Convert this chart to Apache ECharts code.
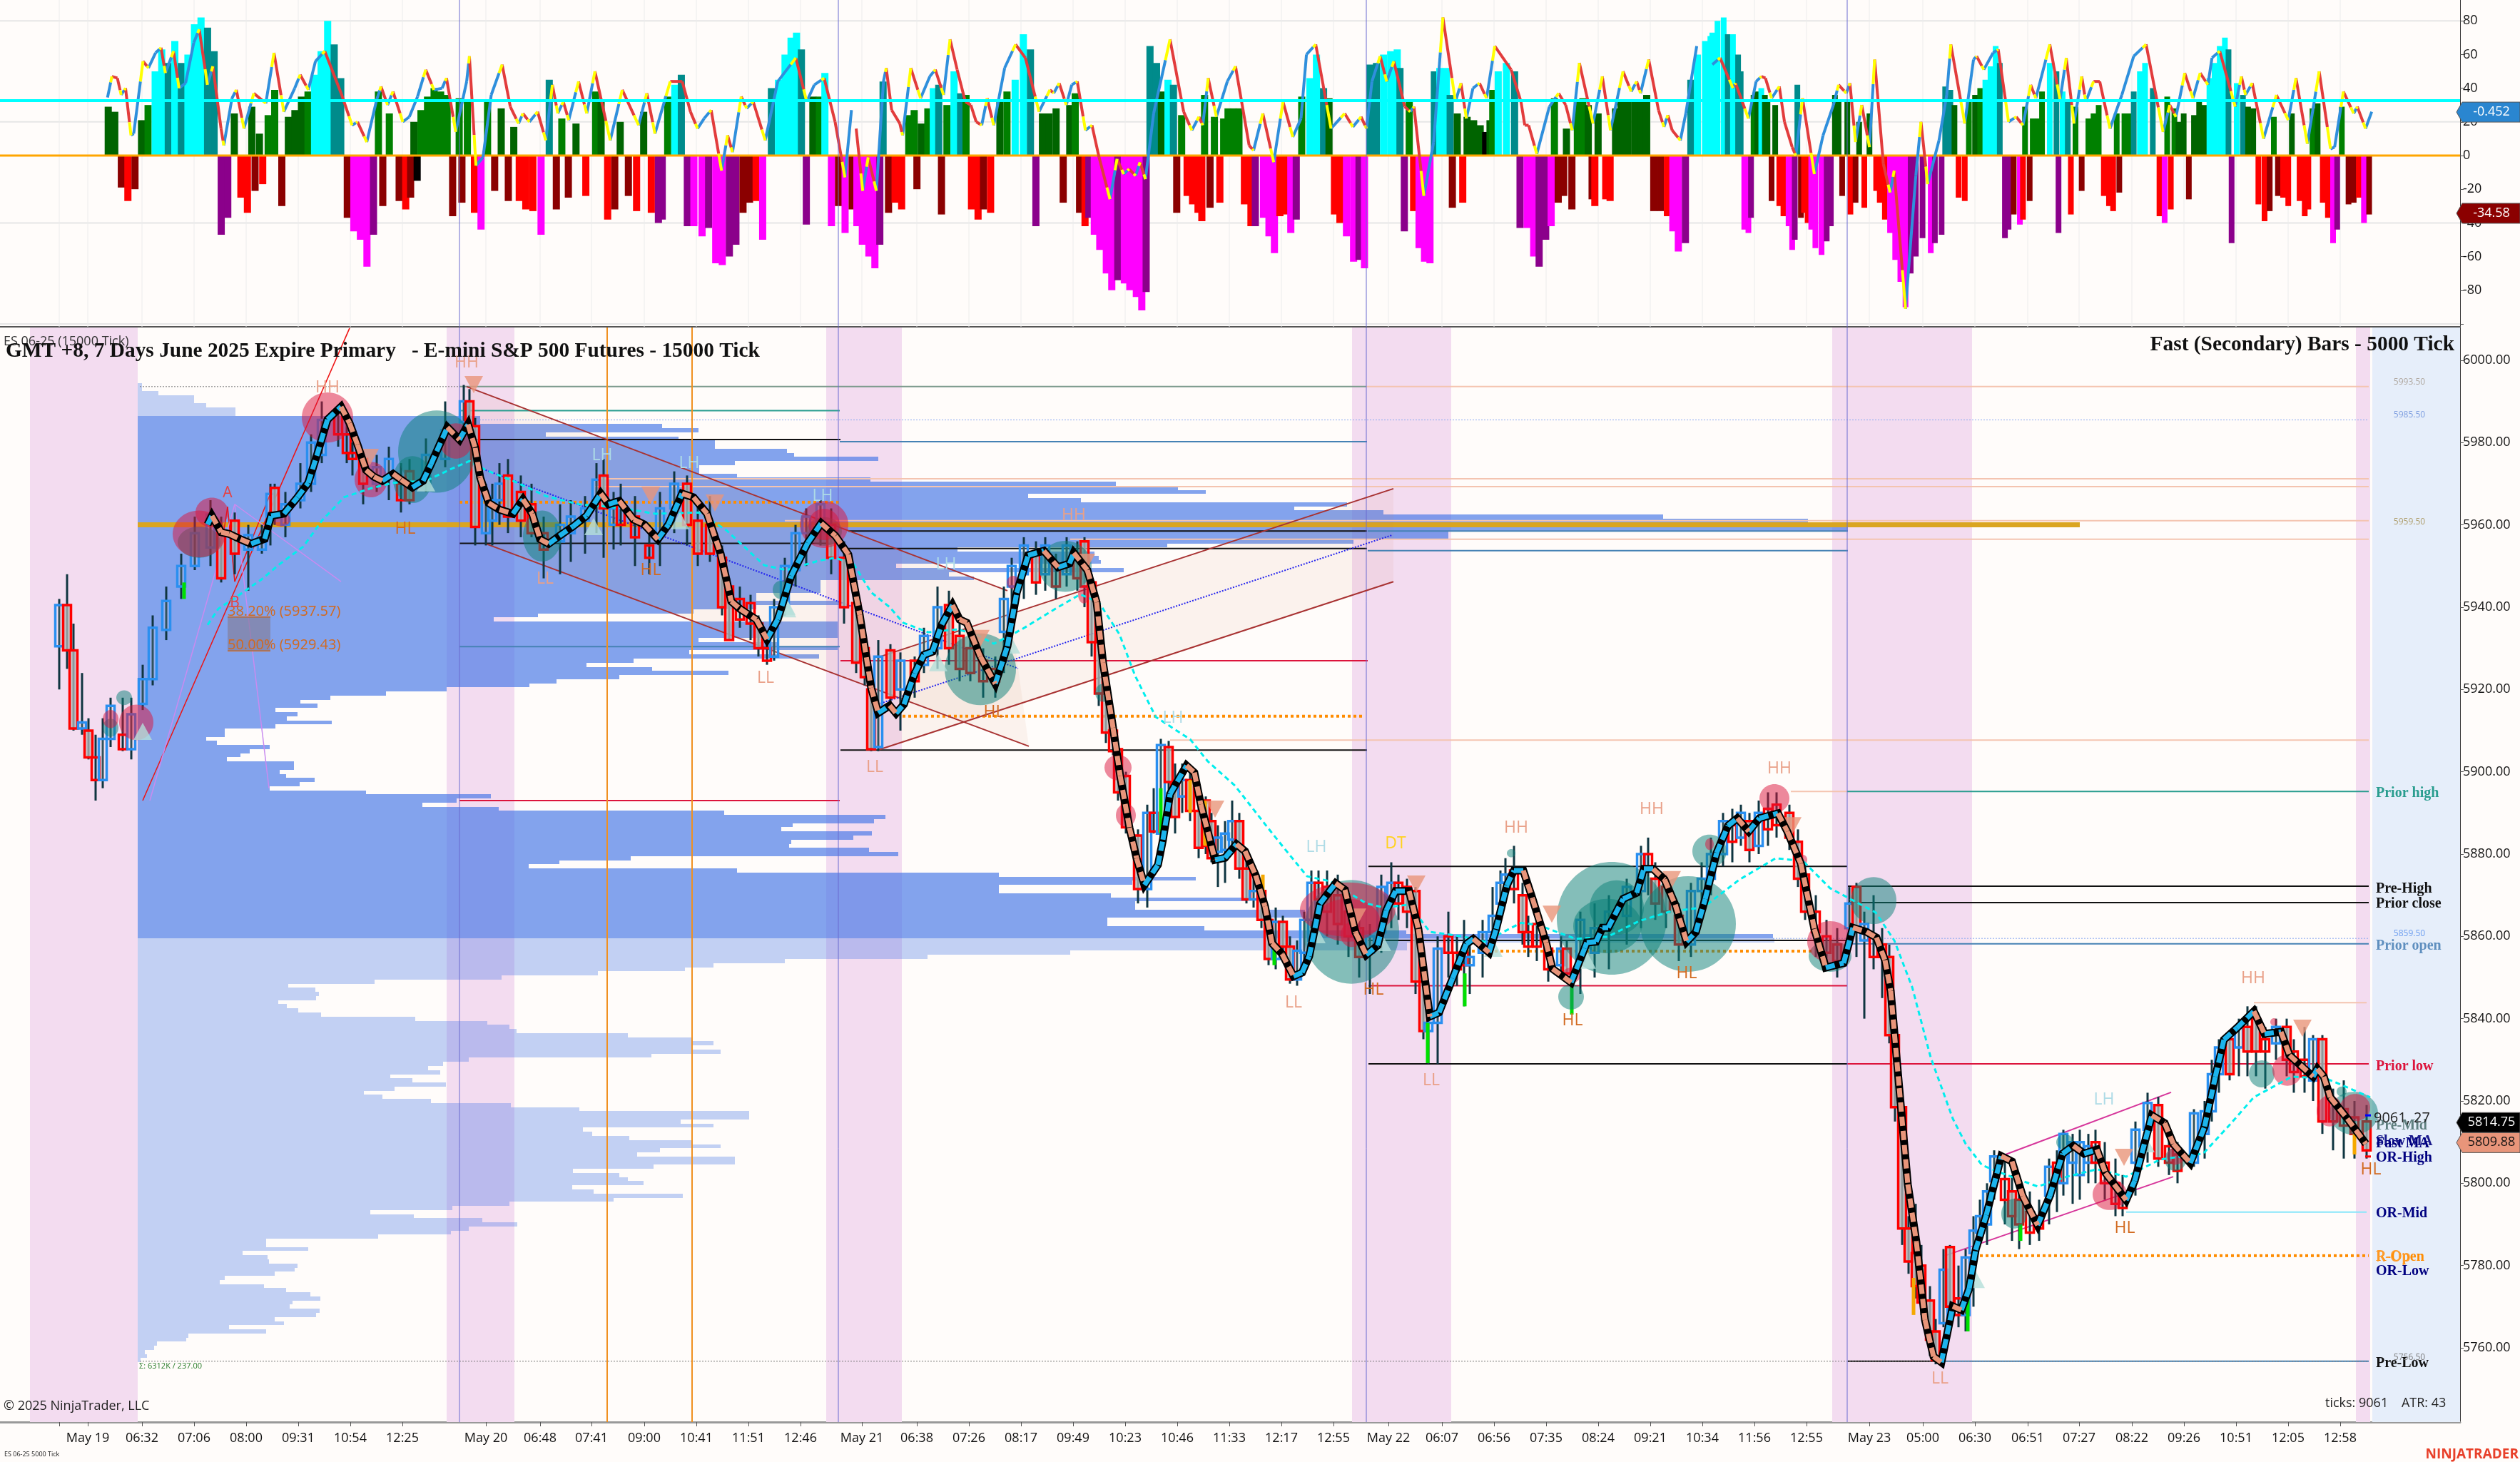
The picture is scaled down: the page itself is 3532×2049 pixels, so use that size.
<!DOCTYPE html>
<html><head><meta charset="utf-8"><title>ES 06-25</title>
<style>html,body{margin:0;padding:0;background:#fffcfa}#c{width:3532px;height:2049px}</style>
<script src="https://cdn.jsdelivr.net/npm/echarts@6/dist/echarts.min.js"></script></head>
<body><div id="c"></div><script>
const G=0,N=1,T=2,C=3,R=4,D=5,M=6,P=7,K=8;
const barColors=['#006400','#008000','#008b8b','#00ffff','#ff0000','#8b0000','#ff00ff','#8b008b','#000000'];
// x-axis: chart time position. Tick positions and names
const xTickPos=[123,199,272,345,418,491,564,681,757,829,903,976,1049,1122,1208,1285,1358,1431,1504,1577,1650,1723,1796,1869,1946,2021,2094,2167,2240,2313,2386,2459,2532,2620,2695,2768,2842,2914,2988,3061,3134,3207,3280];
const xTickLabels=['May 19','06:32','07:06','08:00','09:31','10:54','12:25','May 20','06:48','07:41','09:00','10:41','11:51','12:46','May 21','06:38','07:26','08:17','09:49','10:23','10:46','11:33','12:17','12:55','May 22','06:07','06:56','07:35','08:24','09:21','10:34','11:56','12:55','May 23','05:00','06:30','06:51','07:27','08:22','09:26','10:51','12:05','12:58'];
const priceTicks=[5760,5780,5800,5820,5840,5860,5880,5900,5920,5940,5960,5980,6000];
const oscTicks=[-80,-60,-40,-20,0,20,40,60,80];
const oscGrid=[80,20,-40,-100];
// histogram rows: position, value, colour code
const histA=[[197,29,G],[209,26,G],[221,-19,D],[233,-27,R],[246,-20,D],[258,21,G],[270,30,N],[283,50,C],[295,63,C],[307,55,T],[319,68,C],[331,55,T],[343,60,C],[355,78,C],[367,82,C],[379,76,T],[391,62,T],[404,-47,P],[416,-37,P],[428,25,G],[440,-25,R],[452,-34,R],[460,29,G],[466,-21,D],[474,13,G],[480,-17,R],[490,24,N],[502,39,N],[515,-30,D],[527,23,G],[539,27,G],[551,35,G],[563,38,N],[575,48,C],[587,62,C],[599,80,C],[611,66,T],[623,46,T],[635,-37,D],[647,-45,M],[659,-50,M],[671,-66,M],[683,-47,P],[692,38,N],[700,-30,D],[712,25,N],[730,-27,D],[742,-32,R],[751,-25,D],[763,-15,K],[757,20,G],[770,27,N],[782,35,N],[794,40,N],[806,38,N],[818,36,N],[828,-36,D],[840,34,N],[845,-28,D],[855,33,N],[868,-34,R],[880,-44,M],[892,32,N],[905,-21,D],[917,28,G],[930,-27,D],[940,17,G],[950,-27,R],[962,-32,R],[975,-33,R],[990,-47,M],[1005,45,T],[1018,-32,D],[1028,22,N],[1040,-25,D],[1054,19,G],[1072,-24,R],[1090,38,N],[1100,33,G],[1112,-38,R],[1125,-32,D],[1135,20,G],[1150,-24,D],[1165,-33,R],[1178,26,G],[1192,-34,R],[1205,-40,P],[1212,-38,P],[1222,35,N],[1235,42,C],[1247,48,T],[1258,-42,P],[1270,-42,M],[1285,-48,M],[1297,-43,P],[1310,-64,M],[1322,-65,M],[1335,-60,P],[1347,-53,P],[1360,-34,D],[1372,-28,D],[1384,-27,R],[1396,-50,M],[1412,40,T],[1425,45,C],[1437,60,C],[1448,70,C],[1458,73,C],[1467,63,T],[1476,-41,P],[1488,35,G],[1500,35,N],[1510,49,C],[1522,-42,M],[1535,-30,D],[1547,-46,M],[1560,-32,D]];
const histB=[[0,-42,M],[10,-53,M],[22,-60,M],[33,-67,M],[42,-53,P],[48,44,T],[58,-34,D],[70,-28,R],[82,-32,R],[95,24,N],[105,27,N],[110,-20,D],[118,19,G],[130,28,N],[140,40,C],[150,42,T],[155,-35,D],[165,30,N],[178,50,C],[190,37,T],[200,36,N],[210,-32,R],[222,-38,R],[232,-32,D],[245,-34,R],[262,33,G],[275,38,N],[290,45,C],[305,72,C],[318,63,T],[328,-42,P],[340,25,G],[352,25,G],[365,28,G],[378,-28,D],[390,30,G],[400,37,N],[408,-34,D],[418,-42,R],[425,-37,P],[435,-47,M],[445,-56,M],[457,-70,M],[467,-80,M],[478,-74,P],[490,-76,M],[500,-80,M],[512,-84,M],[522,-92,M],[530,-81,P],[537,65,T],[549,55,T],[558,38,G],[570,45,C],[580,42,T],[586,-34,D],[595,24,N],[605,-24,R],[615,-29,R],[625,-34,R],[632,-39,R],[637,36,N],[647,-31,D],[655,23,N],[665,-28,R],[672,22,N],[680,28,N],[690,28,N],[700,28,N],[710,-29,R],[722,-42,R],[730,-42,P],[745,-37,M],[755,-48,M],[765,-58,M],[775,-36,R],[785,-35,R],[795,-46,M],[805,-38,P],[815,35,N],[830,46,C],[842,60,C],[855,40,T],[865,34,G],[875,-35,R],[885,-40,R],[897,-48,M],[910,-63,M],[920,-62,P],[930,-67,M],[940,54,T],[952,55,T],[965,60,C],[978,62,C],[990,63,C],[995,52,T],[1003,-45,P],[1012,32,N],[1020,-33,R],[1030,-55,M],[1040,-63,M],[1050,-64,M],[1058,50,T],[1068,52,C],[1080,52,C],[1087,36,T],[1091,-31,D],[1100,25,G],[1110,-28,R],[1118,23,G],[1130,21,G],[1142,18,G],[1152,14,K],[1160,21,G],[1165,39,N],[1175,50,C],[1190,55,C],[1205,50,T],[1215,-43,P],[1228,-43,M],[1240,-60,M],[1250,-66,P],[1262,-50,P],[1272,-42,M],[1278,34,N],[1285,-28,D],[1295,-24,D],[1300,16,G],[1310,-32,D],[1320,33,N],[1330,34,N],[1340,30,G],[1347,-26,D],[1352,-30,R],[1358,25,G],[1372,-26,R],[1380,-27,R],[1390,28,G],[1400,32,G],[1412,32,G],[1425,32,G],[1437,32,G],[1447,36,G],[1460,-33,D],[1472,-33,D],[1485,-36,R],[1495,-45,M],[1505,-57,M],[1518,-52,P],[1528,45,T],[1540,60,C],[1555,68,C],[1565,71,C]];
const histC=[[0,73,C],[10,80,C],[22,82,C],[30,72,T],[40,72,C],[50,60,T],[55,50,T],[62,-44,M],[70,-46,M],[75,-37,P],[80,36,N],[87,38,G],[95,40,C],[102,36,G],[107,32,G],[115,-27,D],[122,30,G],[130,-30,R],[138,-36,R],[148,-42,M],[155,-56,M],[160,-50,P],[165,42,T],[172,-37,D],[178,-34,R],[185,-40,R],[192,-44,M],[200,-55,M],[212,-59,M],[222,-51,P],[230,-42,P],[238,36,G],[245,32,G],[252,-24,D],[262,33,G],[268,-35,R],[278,-28,D],[285,20,G],[295,-31,R],[305,25,G],[318,-21,R],[325,-28,R],[335,-38,R],[345,-46,M],[355,-62,M],[365,-75,M],[375,-90,M],[385,-70,P],[395,-60,P],[408,-49,P],[424,-58,M],[432,-52,P],[445,-47,P],[452,41,T],[462,39,T],[470,30,G],[478,-25,R],[490,-27,R],[498,33,N],[510,36,G],[520,40,N],[530,45,C],[540,53,C],[550,65,C],[558,55,T],[568,-49,P],[575,-44,P],[585,-35,D],[597,-41,M],[603,-38,R],[607,29,N],[616,-27,D],[622,22,N],[632,22,N],[640,38,N],[655,55,C],[668,50,T],[672,-46,P],[680,38,C],[690,32,T],[696,-35,R],[705,29,N],[717,-21,D],[730,22,N],[740,25,N],[750,30,N],[760,-24,R],[770,-30,R],[778,-33,R],[785,25,N],[790,-22,D],[800,25,N],[808,25,N],[818,38,T],[830,50,C],[840,55,C],[855,40,T],[868,-36,R],[878,-40,M],[883,35,N],[890,-32,R],[897,28,N],[905,20,G],[915,25,G],[925,-26,D],[935,24,G],[945,32,G],[955,30,G],[965,46,C],[975,55,C],[985,65,C],[995,70,C],[1002,63,T],[1008,-52,P],[1018,43,C],[1030,36,T],[1040,29,G],[1050,28,G],[1060,-29,R],[1072,-39,R],[1082,-33,D],[1090,23,N],[1098,-24,D],[1108,-25,R],[1118,-30,R],[1125,25,G],[1140,-27,R],[1150,-36,R],[1157,-32,R],[1165,28,N],[1175,31,G],[1185,-28,R],[1195,-37,R],[1205,-52,M],[1213,-44,P],[1222,29,N],[1235,-29,D],[1245,-28,D],[1255,-25,R],[1265,-40,M],[1275,-35,D]];
// signal line rows: position, value
const signalA=[[197,34.5],[205,47],[215,46],[222,36],[230,40],[240,12],[245,13],[262,56],[272,52],[285,61],[295,64],[303,49],[318,62],[328,40],[340,43],[355,67],[365,75],[380,42],[390,53],[405,16],[410,6],[425,34],[433,39],[447,16],[465,37],[487,31],[502,61],[520,26],[540,40],[550,48],[565,39],[578,56],[595,62],[625,37],[645,18],[655,20],[672,8],[690,33],[698,41],[710,30],[720,38],[738,20],[750,23],[765,35],[780,51],[795,39],[810,40],[818,46],[835,14],[855,44],[860,59],[872,-6],[885,-1],[900,36],[920,54],[935,29],[950,19],[958,25],[970,20],[985,26],[1000,9],[1012,42],[1022,25],[1032,32],[1042,21],[1060,44],[1075,25],[1090,50],[1118,9],[1140,39],[1170,18],[1185,37],[1200,13],[1228,44],[1250,44],[1265,26],[1278,16],[1290,22],[1303,27],[1322,-9],[1333,12],[1342,2],[1358,35],[1368,28],[1380,32],[1402,9],[1425,44],[1458,58],[1478,32],[1492,42],[1510,46],[1530,20],[1548,-13],[1560,27]];
const signalB=[[0,16],[12,-21],[22,-1],[37,-21],[50,44],[55,52],[65,27],[80,19],[85,12],[100,52],[118,34],[135,47],[145,51],[160,36],[172,69],[185,51],[200,32],[210,30],[220,20],[230,18],[240,34],[252,18],[272,52],[292,66],[310,58],[335,26],[355,39],[362,37],[372,43],[385,30],[395,42],[405,44],[420,15],[432,18],[445,-1],[465,-26],[478,-2],[490,-11],[500,-8],[512,-12],[520,-4],[530,-14],[545,25],[575,69],[600,26],[615,15],[628,23],[635,18],[645,46],[660,23],[680,44],[695,53],[720,6],[728,3],[745,25],[765,-4],[782,32],[800,11],[815,22],[825,60],[842,66],[870,16],[895,25],[910,17],[925,23],[935,16],[945,44],[960,59],[972,44],[985,56],[1005,29],[1015,26],[1022,29],[1040,-24],[1058,8],[1075,82],[1098,32],[1108,43],[1118,22],[1130,40],[1142,43],[1155,34],[1170,65],[1200,51],[1218,32],[1225,18],[1232,18],[1247,1],[1270,29],[1287,37],[1300,30],[1312,15],[1325,55],[1350,19],[1367,47],[1382,15],[1405,50],[1420,38],[1430,44],[1437,37],[1452,57],[1470,27],[1480,17],[1487,24],[1495,15],[1510,9],[1520,25],[1540,65]];
const signalC=[[0,54],[15,58],[40,40],[45,43],[70,22],[85,44],[95,47],[103,46],[115,34],[130,41],[140,20],[155,5],[162,0],[175,34],[198,-11],[215,12],[235,30],[245,42],[260,37],[267,43],[278,8],[290,30],[305,5],[315,57],[332,-5],[345,-22],[353,-9],[375,-91],[395,-12],[405,20],[418,-17],[440,9],[455,36],[463,66],[490,19],[507,57],[513,59],[527,51],[545,61],[555,63],[575,20],[590,23],[603,18],[618,42],[628,34],[655,66],[675,33],[687,58],[702,19],[717,47],[725,32],[740,44],[752,44],[772,16],[795,36],[818,59],[842,66],[875,14],[888,30],[900,23],[917,49],[933,34],[947,49],[962,42],[970,58],[985,62],[1015,29],[1027,47],[1035,36],[1048,43],[1070,10],[1095,36],[1118,21],[1133,46],[1155,7],[1178,50],[1200,4],[1208,5],[1225,38],[1245,25],[1252,29],[1268,16],[1280,26]];
const oscLevelCyan=32.6, oscTagBlue=25.8, oscTagRed=-34.3;
// candle rows: position, open, close, high, low
const candlesMay19=[[83,5930.5,5940.5,5942,5920],[94,5940.5,5929.5,5948,5925],[103,5929.5,5910.5,5936,5910],[115,5910.5,5912,5924,5909],[124,5910,5903.5,5913,5903],[134,5903.5,5898,5909,5893],[144,5898,5908,5913,5896],[155,5908,5916,5918,5906],[172,5909,5905.5,5918,5905],[184,5905.5,5914,5918,5903],[200,5916.5,5922.5,5926,5915],[214,5922.5,5935,5938,5921],[233,5934.5,5941.5,5945,5932],[254,5945,5950,5953,5942],[273,5950,5958,5962,5949],[295,5954.5,5962.5,5966,5950],[310,5958,5947,5962,5946],[329,5961,5953,5963,5948],[348,5954,5957.5,5960,5944],[367,5954,5957,5960,5953],[379,5962,5967.5,5970,5955],[385,5969,5962,5970,5960],[400,5960,5965,5968,5957],[421,5966,5970,5975,5964],[436,5970,5980,5982,5968],[451,5977,5985.5,5990,5975],[474,5987.5,5982,5989,5979],[486,5982,5977.5,5985,5975],[494,5977.5,5976,5980,5972],[509,5976,5970,5978,5965],[528,5970,5974,5977,5968],[545,5971.5,5976,5979,5966],[562,5970,5966,5975,5963],[574,5973,5966,5976,5965],[597,5970,5977,5981,5968],[624,5976,5983,5990,5974],[650,5985,5990,5994,5983]];
const candlesMay20=[[658,5990,5984,5993,5982],[666,5984,5959.5,5986,5955],[681,5958,5967,5970,5955],[690,5961,5966,5970,5955],[700,5966,5970,5975,5960],[712,5972,5962,5976,5958],[730,5968,5961,5972,5957],[745,5965,5958,5970,5957],[762,5958,5954,5962,5947],[785,5956,5960,5965,5948],[800,5958,5962,5966,5951],[820,5961,5964,5967,5953],[836,5965,5971,5975,5958],[846,5972,5964,5976,5952],[860,5960,5964,5968,5954],[870,5965,5960,5970,5955],[890,5962,5957,5967,5950],[910,5955,5952,5960,5948],[925,5958,5964,5968,5950],[945,5964,5970,5973,5958],[963,5970,5960,5972,5955],[978,5961,5953,5965,5950],[995,5960,5953,5967,5951],[1012,5952,5940,5955,5938],[1022,5945,5932,5947,5932],[1037,5942,5937,5945,5935],[1052,5941,5936,5943,5932],[1063,5936,5930,5938,5928],[1075,5930,5927,5934,5926],[1085,5928,5940,5942,5927],[1100,5940,5950,5952,5938],[1115,5949,5958,5960,5945],[1130,5958,5962,5964,5950],[1150,5960,5965,5966,5955],[1165,5960,5952,5964,5948]];
const candlesMay21=[[1183,5952,5940,5956,5936],[1200,5941,5926.5,5945,5924],[1212,5930,5923,5932,5921],[1221,5920,5905.5,5922,5905],[1231,5906,5928,5932,5905],[1248,5929.5,5918,5931,5915],[1262,5920,5927,5929,5910],[1282,5927,5922,5928,5918],[1295,5926,5933,5935,5924],[1314,5930,5940,5945,5925],[1330,5940.5,5930,5944,5926],[1345,5933,5925,5938,5922],[1360,5930,5924,5936,5922],[1378,5927,5922,5930,5918],[1395,5925,5922,5928,5918],[1407,5934,5942,5945,5924],[1418,5945,5950,5952,5940],[1435,5948,5955,5957,5942],[1452,5953,5946,5956,5943],[1465,5948,5955,5957,5944],[1480,5950,5945,5953,5942],[1495,5948,5955,5957,5945],[1510,5953,5947,5956,5944],[1520,5956,5945,5957,5940],[1530,5946,5931.5,5948,5928],[1540,5931.5,5919,5933,5916],[1550,5919,5909.5,5921,5907],[1560,5910,5905,5912,5904],[1567,5905.5,5895,5907,5893],[1578,5899,5886.5,5900,5885],[1595,5884.5,5871.5,5886,5868],[1608,5871.5,5890,5892,5867],[1617,5890,5885.5,5896,5885],[1627,5885,5906.5,5908,5884],[1638,5906,5897.5,5907.5,5895],[1647,5897,5889,5902,5885],[1657,5894,5898,5902,5890],[1668,5898,5890.5,5900,5888],[1680,5890.5,5881.5,5893,5879],[1690,5893,5882,5894,5880],[1698,5888,5879,5890,5878],[1707,5880.5,5884,5887,5872],[1717,5881,5885,5888,5873],[1727,5883.5,5888,5893,5880],[1737,5888,5876.5,5890,5874],[1747,5876.5,5869,5879,5868],[1757,5869,5871,5875,5867],[1768,5871,5864,5873,5862],[1778,5864,5854.5,5866,5853],[1788,5854.5,5863.5,5867,5852],[1798,5863.5,5857.5,5865,5856],[1808,5857.5,5849.5,5860,5848.5],[1818,5849.5,5856.5,5859,5848],[1828,5856,5864,5866,5852],[1838,5864,5873,5876,5862],[1848,5873,5869,5876,5866],[1860,5872,5866,5876,5860],[1875,5870,5863,5875,5858],[1890,5866,5860,5868,5855],[1905,5862,5855,5864,5850]];
const candlesMay22=[[1920,5856,5860,5863,5846],[1936,5861,5872,5875,5856],[1950,5868,5873,5878,5862],[1960,5873,5868,5875,5864],[1972,5872,5866,5874,5862],[1984,5871,5849,5872,5846],[1995,5849,5837,5855,5835],[2002,5837,5839,5842,5829],[2015,5839,5857,5860,5829],[2030,5860,5856,5866,5850],[2042,5856,5852,5860,5848],[2052,5856,5853,5864,5843],[2060,5853,5855,5858,5846],[2078,5856,5861,5864,5850],[2092,5861,5865,5872,5858],[2103,5868,5873,5876,5864],[2110,5873,5875,5879,5868],[2122,5876,5871.5,5882,5868],[2134,5870,5861,5873,5858],[2142,5861,5857.5,5865,5855],[2154,5863,5857.5,5866,5854],[2170,5857,5852,5860,5849],[2188,5853,5857,5860,5850],[2196,5857,5851,5859,5849],[2215,5854,5864,5866,5846],[2235,5856,5862,5868,5850],[2255,5862,5866,5870,5852],[2280,5865,5872,5874,5858],[2300,5871,5880,5882,5862],[2310,5880,5877,5884,5870],[2320,5874,5868,5878,5864],[2335,5872,5866,5875,5862],[2353,5865,5858,5868,5854],[2370,5858,5871,5873,5855],[2385,5871,5874,5878,5865],[2398,5874,5880,5884,5870],[2415,5880,5888,5890,5877],[2428,5887,5883,5891,5878],[2440,5884,5890,5892,5882],[2452,5888,5881,5890,5878],[2465,5882,5890,5893,5880],[2478,5891,5886,5895,5882],[2490,5892,5887,5895,5884],[2508,5890,5884,5892,5881],[2520,5883,5874,5886,5872],[2530,5875,5866,5878,5864],[2545,5866,5861,5870,5855],[2560,5860,5856,5864,5853],[2575,5858,5854,5862,5850]];
const candlesMay23=[[2592,5862,5868,5872,5858],[2602,5872,5862,5873,5855],[2613,5859,5863,5866,5840],[2626,5860,5855,5870,5852],[2638,5858,5855,5862,5845],[2648,5855,5836,5858,5834],[2656,5836,5818.5,5838,5815],[2666,5818.5,5789,5821,5785],[2675,5789,5781,5792,5778],[2685,5783,5775,5795,5772],[2693,5780,5771,5785,5768],[2705,5771.5,5762,5775,5758],[2713,5764,5757,5767,5756],[2724,5766,5779,5784,5765],[2733,5784.5,5770,5785,5766],[2745,5772,5768,5780,5765],[2755,5768,5782,5784,5764],[2766,5783,5788.5,5792,5770],[2775,5788,5792,5796,5786],[2785,5790,5798,5800,5785],[2795,5800.5,5806.5,5808,5796],[2810,5801,5796,5806,5790],[2820,5798,5792,5802,5786],[2830,5796,5790,5800,5784],[2845,5793,5788,5798,5785],[2858,5792,5789,5796,5786],[2872,5797,5804,5806,5790],[2883,5805,5800,5808,5793],[2892,5800,5812,5813,5797],[2905,5805,5810,5812,5795],[2915,5802,5810,5813,5796],[2927,5805,5809,5812,5800],[2937,5810,5805,5813,5800],[2950,5805,5800,5810,5796],[2965,5800,5795,5806,5792],[2975,5797,5794,5802,5792],[2993,5805,5813,5815,5797],[3010,5813,5819.5,5822,5805],[3025,5819,5806,5821,5804],[3040,5809,5805,5812,5802],[3052,5807,5803,5810,5800],[3075,5805,5817,5818,5804],[3090,5812,5817.5,5820,5806],[3100,5817.5,5826.5,5830,5815],[3110,5826.5,5833,5835,5822],[3125,5835,5826.5,5837,5825],[3138,5833,5838,5840,5826],[3150,5838,5832,5843,5826],[3162,5840,5832,5843,5826],[3175,5835,5832,5838,5823],[3190,5834,5838,5840,5830],[3205,5838,5830,5840,5826],[3215,5832,5827,5835,5822],[3230,5830,5826,5838,5822],[3242,5825,5835,5836,5820],[3255,5835,5815,5836,5812],[3270,5820,5815,5823,5808],[3285,5818,5814,5825,5806],[3300,5816,5812,5820,5806],[3317,5815,5808,5819,5806]];
const accentLime=[[258,5946,5942],[1627,5896,5885],[1786,5857.5,5853],[2001,5839,5829.2],[2053,5851,5843],[2203,5848,5841],[2758,5776,5764],[2832,5790,5786]];
const accentAmber=[[1668,5898,5890],[1689,5893,5882],[1770,5875,5870],[2682,5777,5768],[3300,5812,5807]];
// smoothed swing line: position, price
const swingLine=[[291,5960.1],[297,5962.2],[310,5958.2],[321,5957.8],[337,5956.5],[352,5955.4],[371,5956.6],[380,5962.2],[398,5962.7],[417,5966.7],[432,5970.2],[444,5976.8],[459,5985.6],[478,5988.7],[490,5984.7],[501,5979.5],[513,5973.3],[524,5971.7],[536,5970.7],[551,5972.4],[562,5971],[578,5969.1],[593,5970.7],[604,5974.7],[627,5983.7],[644,5980.7],[656,5984.4],[666,5978.7],[673,5971.5],[685,5965.3],[700,5963.7],[719,5962.7],[733,5966.2],[746,5962.7],[757,5956.5],[769,5955.4],[784,5957.3],[803,5959.6],[822,5962.2],[842,5967.6],[853,5965],[868,5965.8],[888,5961.3],[903,5960.1],[922,5956.5],[937,5960.1],[956,5967.6],[972,5966.7],[991,5962.7],[1010,5953],[1025,5941.4],[1037,5939.6],[1060,5937],[1075,5932.2],[1090,5937],[1109,5947.6],[1132,5955.6],[1151,5960.4],[1171,5957.3],[1189,5952.8],[1205,5938.1],[1221,5920.4],[1231,5914.3],[1247,5916.1],[1256,5914.2],[1267,5916.4],[1282,5923.9],[1295,5928.4],[1307,5929.2],[1320,5935.8],[1335,5940.5],[1345,5937],[1355,5936.2],[1374,5928],[1395,5921.4],[1412,5930.5],[1425,5943.5],[1441,5952.6],[1463,5953.7],[1483,5949.7],[1499,5950.6],[1505,5953.2],[1524,5949],[1537,5941.2],[1546,5926.5],[1560,5910.7],[1570,5899],[1583,5886.4],[1593,5879],[1604,5872.5],[1623,5877.4],[1630,5883.5],[1640,5894.6],[1663,5901.5],[1674,5899.8],[1683,5892.1],[1703,5878.6],[1717,5879.1],[1733,5882.4],[1745,5880.7],[1760,5874.8],[1773,5867.3],[1783,5858.3],[1797,5855.7],[1813,5850.3],[1825,5851.2],[1835,5855.2],[1850,5867.9],[1872,5872.9],[1885,5871.3],[1900,5860.9],[1915,5855.5],[1931,5857.8],[1943,5866.3],[1956,5871],[1975,5871],[1988,5861.8],[2004,5840.5],[2017,5841.5],[2036,5849.8],[2055,5858.1],[2065,5859.4],[2087,5856.1],[2097,5861.8],[2112,5872.4],[2122,5876],[2135,5876],[2148,5869.1],[2167,5858.5],[2176,5852.1],[2202,5848.8],[2221,5857.1],[2224,5858.5],[2237,5858.7],[2246,5862.1],[2254,5862.1],[2275,5869.1],[2294,5870.6],[2304,5876.4],[2317,5876.4],[2333,5873.8],[2348,5867.7],[2364,5858.7],[2377,5861.1],[2390,5869.1],[2406,5880.3],[2422,5886.9],[2435,5888.7],[2451,5885.5],[2466,5888.7],[2492,5889.9],[2505,5885.5],[2524,5877.7],[2543,5861.8],[2559,5852.4],[2584,5853.5],[2597,5862.1],[2616,5861.1],[2630,5859.7],[2642,5854.2],[2650,5846.7],[2662,5823.1],[2674,5799.7],[2686,5785.7],[2698,5766.8],[2710,5757.9],[2721,5756.5],[2737,5770.1],[2749,5769.2],[2760,5774.4],[2769,5783.8],[2784,5792.3],[2805,5806.6],[2820,5805.3],[2835,5796.9],[2856,5789.8],[2873,5796.9],[2891,5807.2],[2906,5809.1],[2921,5807.2],[2939,5808.2],[2951,5802.5],[2980,5795.9],[2992,5800.6],[3016,5816.5],[3034,5814.6],[3046,5809.6],[3070,5804.9],[3090,5813.8],[3105,5825.9],[3117,5834.9],[3135,5837.7],[3159,5841.8],[3174,5836.3],[3197,5836.8],[3209,5831.1],[3242,5825.9],[3248,5827.8],[3257,5825.9],[3266,5820.9],[3290,5815.7],[3316,5809.6]];
const slowMA=[[291,5935.7],[306,5939.6],[329,5942.2],[367,5946.8],[390,5950.2],[425,5954.7],[451,5961],[482,5966.7],[520,5968.9],[551,5970.2],[597,5970.7],[635,5973.8],[658,5975.5],[681,5973.3],[719,5970.7],[765,5967],[811,5965],[872,5964.1],[918,5962.7],[979,5963],[1018,5958.7],[1071,5950.2],[1102,5949],[1148,5951.3],[1170,5952],[1196,5950.6],[1221,5943.6],[1247,5940],[1266,5936.2],[1301,5933.9],[1342,5934.6],[1368,5933.4],[1393,5931.1],[1432,5934.6],[1483,5940],[1514,5943.1],[1540,5941.2],[1569,5933.4],[1591,5923.3],[1620,5913.3],[1668,5907.9],[1693,5902.5],[1731,5896.6],[1776,5886.6],[1800,5881.4],[1832,5874.6],[1864,5873.4],[1915,5868],[1940,5867],[1975,5867.7],[2004,5861.1],[2049,5860],[2081,5858.7],[2132,5863.3],[2157,5862.7],[2208,5859.4],[2253,5859.9],[2297,5863.7],[2342,5866.1],[2387,5867],[2438,5873.8],[2489,5879],[2527,5878.3],[2565,5871.7],[2629,5865.8],[2655,5859],[2680,5847.7],[2706,5830.6],[2737,5815.7],[2755,5809.6],[2778,5804.4],[2805,5802.5],[2856,5799.2],[2897,5801.6],[2939,5803.4],[2980,5801.6],[3028,5805.8],[3088,5807.2],[3123,5813.8],[3159,5820.9],[3212,5825.9],[3260,5825.5],[3322,5820.9]];
// volume profile: bar end per 1-point row
const vpStart=193, vpValueBase=5859.5, vpUpperBase=5986.5;
const vpValueArea=[2485,1971,1688,1552,1552,1829,1829,1591,1591,1747,1557,1400,1400,1587,1676,1400,1033,741,784,884,1259,1218,1106,1109,1196,1222,1095,1111,1225,1241,1015,699,592,640,688,513,378,420,441,401,392,412,412,318,337,350,378,304,289,315,315,386,465,402,417,386,445,421,463,541,626,742,780,868,1021,914,822,888,1148,966,1174,1090,979,1174,1174,1174,1174,692,754,972,1060,1176,1060,1060,1150,1150,1150,1365,1330,1575,1256,1543,1540,1534,1342,1636,1897,2030,2030,2590,2915,2534,2331,1939,1814,1888,1515,1441,1690,1651,1564,1220,1033,980,980,1030,1231,1113,1103,1002,1002,951,765,979,928,673,673];
const vpLower=[2487,1972,1972,1500,1300,1100,1000,960,838,703,525,404,442,447,443,390,402,418,450,582,683,714,724,880,970,1000,970,1010,913,657,621,600,617,547,578,625,553,510,536,604,716,812,1050,1050,954,1000,817,830,882,970,1010,925,893,1030,1030,916,803,868,880,902,802,832,957,860,714,634,519,580,676,725,657,632,530,373,373,432,340,375,377,417,413,385,315,308,370,401,435,449,410,406,448,443,385,398,321,373,264,261,220,216,203,206,197];
const vpUpper=[330,330,289,272,272,222,199,199];
const vpPOC=[[193,2915,5960]];
// sessions and levels
const sessionBands=[[42,193],[626,721],[1158,1264],[1895,2034],[2568,2764],[3302,3322]];
const rightPanel=[[3325,3448]];
const sessionLines=[644,1175,1915,2589];
const orangeLines=[851,970];
const blackLevels=[[666,1178,5980.75],[644,1178,5955.5],[1189,1916,5958.5],[1189,1916,5954.25],[1178,1916,5905.25],[1918,2589,5877],[1918,2589,5859],[1918,2589,5829],[2590,3320,5872.2],[2590,3320,5868.2],[2590,2720,5756.75]];
const steelLevels=[[644,1177,5930.4],[1177,1916,5980.2],[1917,2590,5958.5],[1917,2590,5953.75],[2590,3320,5858.2],[2720,3320,5756.75]];
const crimsonLevels=[[644,1177,5893],[1178,1917,5927],[1918,2589,5848],[2589,3320,5829]];
const tealLevels=[[644,1177,5987.75],[2589,3320,5895.2]];
const topLevels=[[644,1915,5993.6]];
const paleLevels=[[1915,3320,5993.6],[834,3320,5971.2],[834,3320,5969.3],[1100,3320,5961],[1500,3320,5956.5],[1640,3320,5907.7],[2510,2589,5895.2],[3159,3317,5843.9]];
const orangeDotted=[[644,1177,5965.5],[1265,1912,5913.5],[2055,2540,5856.4],[2775,3320,5782.4]];
const blueDotted=[[644,3320,5985.5],[2485,3320,5859.5]];
const grayDotted=[[196,3320,5756.75],[196,644,5993.6]];
const orMid=[[2980,3317,5793]];
const lastPrice=5814.75, fastPrice=5809.88;
// channels: x1,p1,x2,p2
const downChannel=[[654,5993.6,1412,5944],[681,5955.4,1442,5906.2]];
const upChannel=[[1231,5905.3,1953,5946.2],[1234,5928,1953,5968.8]];
const downMid=[[673,5973.8,1427,5925.1]];
const upMid=[[1234,5916.6,1951,5957.5]];
const pinkChannel=[[2805,5806.6,3043,5822.1],[2726,5782.4,3046,5801.6]];
const redTrend=[[200,5893,490,6007.8],[310,5954.4,319,5964.4],[319,5964.4,329,5946.2],[329,5946.2,383,5969.3]];
const violetTrend=[[210,5893,329,5965],[329,5965,478,5946.2],[329,5965,377,5896]];
const fibLevels=[[5937.57,'38.20% (5937.57)'],[5929.43,'50.00% (5929.43)']];
const fibSpan=[319,379];
// bubbles: position, price, half width, half height in price points
const tealBubbles=[[612,5977.8,54,10],[578,5971,27,5.7],[760,5957.3,27,6.2],[174,5918,11,1.8],[155,5910.7,11,2.2],[1094,5944.2,11,2.2],[1374,5924.9,50,8.7],[1493,5949.9,37,6.2],[1546,5919.2,11,2.2],[1894,5861.1,67,12.6],[2259,5864.4,77,13.7],[2266,5867,38,6.6],[2253,5862.5,48,6.6],[2366,5863,67,11.6],[2202,5845.3,18,3.1],[2396,5880.7,24,4],[2626,5868.7,32,5.7],[2118,5880.2,6,1],[2823,5792.6,18,3.6],[2894,5810,12,1.9],[3049,5805.8,15,2.8],[3170,5826.6,18,3.3],[3299,5817,34,5.2],[3282,5822.3,7,1.2],[279,5955.8,30,3.8],[2565,5855.2,30,3.8],[1155,5958.4,25,3.5]];
const redBubbles=[[279,5957.8,37,5.7],[297,5963,23,3.6],[459,5986.1,36,6.1],[394,5961.3,13,1.7],[191,5912,24,4.3],[155,5912.8,11,2.2],[639,5980.4,23,4.3],[520,5971,23,4.3],[1155,5960.1,34,5.7],[1155,5960.1,22,3.8],[1420,5946,9,1.6],[1519,5943.1,8,2.2],[1567,5901,19,3.1],[1578,5889.4,14,2.8],[1889,5866.5,67,6.6],[1889,5863.9,45,5.2],[1894,5860.4,15,3],[2202,5850.5,13,1.9],[2487,5893.5,21,3.5],[2396,5882.4,6,1.4],[2527,5878.6,6,1.2],[2565,5858.7,32,5],[2957,5797.3,24,3.8],[3206,5827.5,21,3.8],[3187,5839.2,5,0.9],[3265,5817.6,18,3.8],[3301,5818.4,21,3.3],[3049,5806.6,12,2.1]];
const downMarks=[[664,5994.1],[518,5976.4],[912,5967.2],[1002,5965.3],[1374,5932.4],[1522,5950.9],[1703,5890.9],[1985,5872.7],[1902,5864.7],[2175,5865.4],[2343,5873.8],[2512,5886.9],[2977,5806.3],[3227,5837.7]];
const upMarks=[[597,5970.2],[832,5959.6],[953,5961],[1102,5940.2],[200,5909.8],[1103,5939.6],[1315,5926.5],[1417,5930.8],[1845,5860.4],[1937,5858.5],[2093,5857.1],[2224,5854.2],[2769,5776.6],[3007,5809.6]];
// text labels on the price scale
const swingHighLow=[[459,5993.4,'HH'],[654,5999.3,'HH'],[764,5946.9,'LL'],[1073,5922.8,'LL'],[1226,5901,'LL'],[1505,5962.2,'HH'],[1813,5843.9,'LL'],[2006,5824.9,'LL'],[2125,5886.4,'HH'],[2315,5890.9,'HH'],[2494,5900.8,'HH'],[2719,5752.5,'LL'],[3158,5849.7,'HH']];
const swingHL=[[568,5958.9,'HL'],[912,5949,'HL'],[1393,5914.5,'HL'],[1925,5847,'HL'],[2204,5839.6,'HL'],[2364,5850.9,'HL'],[2978,5789,'HL'],[3323,5803.2,'HL']];
const swingLH=[[844,5976.8,'LH'],[966,5975,'LH'],[1153,5966.9,'LH'],[1326,5950.4,'LH'],[1644,5913.1,'LH'],[1845,5881.7,'LH'],[2949,5820.3,'LH']];
const swingDT=[[1956,5882.6,'DT']];
const swingAB=[[319,5967.7,'A'],[329,5941,'B']];
const levelNames=[[5894.7,'Prior high','#2a9d8f'],[5871.6,'Pre-High','#111'],[5867.8,'Prior close','#111'],[5857.6,'Prior open','#5f8fbf'],[5828.4,'Prior low','#dc143c'],[5813.9,'Pre-Mid','#5f7f7f'],[5810.1,'Slow MA','#1a1a8c'],[5809.6,'Fast MA','#000080'],[5806.1,'OR-High','#000080'],[5792.6,'OR-Mid','#000080'],[5782,'R-Open','#ff8c00'],[5778.6,'OR-Low','#000080'],[5756.3,'Pre-Low','#111']];
const smallPrices=[[5993.5,'5993.50','#b0a8a0'],[5985.5,'5985.50','#7f9fe0'],[5959.5,'5959.50','#b0a070'],[5859.5,'5859.50','#6f9ff0'],[5756.5,'5756.50','#808080']];
const counterLabel=[[3327,5815.8,'9061, 27']];
const tinyMarks=[[3315,3323,5816.5]];
const tinyRed=[[3315,3323,5806.5]];

const FONT='"Open Sans", sans-serif', SERIF='"Liberation Serif", serif';
const OSC=0, PX=1;
const yTop=6007.96, yBot=5741.97;
const rowsAt=(rows,base,k)=>rows.map(r=>[base+r[0]*k,...r.slice(1)]);
const band=(rows,fill,z)=>({type:'custom',xAxisIndex:PX,yAxisIndex:PX,silent:true,z,data:rows,renderItem:(p,a)=>{
  const t=a.coord([a.value(0),yTop]),b=a.coord([a.value(1),yBot]);
  return {type:'rect',shape:{x:t[0],y:t[1],width:b[0]-t[0],height:b[1]-t[1]},style:{fill}};}});
const level=(rows,stroke,lineWidth,dash,z,ax=PX)=>({type:'custom',xAxisIndex:ax,yAxisIndex:ax,silent:true,z,data:rows,renderItem:(p,a)=>{
  const s=a.coord([a.value(0),a.value(2)]),e=a.coord([a.value(1),a.value(2)]);
  return {type:'line',shape:{x1:s[0],y1:s[1],x2:e[0],y2:s[1]},style:{stroke,lineWidth,lineDash:dash||null}};}});
const seg=(rows,stroke,lineWidth,dash,z,ax=PX)=>({type:'custom',xAxisIndex:ax,yAxisIndex:ax,silent:true,z,data:rows,renderItem:(p,a)=>{
  const s=a.coord([a.value(0),a.value(1)]),e=a.coord([a.value(2),a.value(3)]);
  return {type:'line',shape:{x1:s[0],y1:s[1],x2:e[0],y2:e[1]},style:{stroke,lineWidth,lineDash:dash||null,lineCap:'butt'}};}});
const vline=(xs,stroke,lineWidth,z,ax,lo,hi)=>({type:'custom',xAxisIndex:ax,yAxisIndex:ax,silent:true,z,data:xs.map(x=>[x,lo]),renderItem:(p,a)=>{
  const s=a.coord([a.value(0),lo]),e=a.coord([a.value(0),hi]);
  return {type:'line',shape:{x1:s[0],y1:s[1],x2:s[0],y2:e[1]},style:{stroke,lineWidth}};}});
const texts=(rows,fill,font,z,align='center')=>({type:'custom',xAxisIndex:PX,yAxisIndex:PX,silent:true,z,data:rows.map(r=>[r[0],r[1]]),renderItem:(p,a)=>{
  const c=a.coord([a.value(0),a.value(1)]);
  return {type:'text',style:{x:c[0],y:c[1],text:rows[p.dataIndex][2],fill,font,textAlign:align,textVerticalAlign:'middle'}};}});
const channelFill=(pair,fill,z)=>({type:'custom',xAxisIndex:PX,yAxisIndex:PX,silent:true,z,data:[[pair[0][0],pair[0][1]]],renderItem:(p,a)=>{
  const pts=[a.coord([pair[0][0],pair[0][1]]),a.coord([pair[0][2],pair[0][3]]),a.coord([pair[1][2],pair[1][3]]),a.coord([pair[1][0],pair[1][1]])];
  return {type:'polygon',shape:{points:pts},style:{fill}};}});
const bubbles=(rows,fill,z)=>({type:'custom',xAxisIndex:PX,yAxisIndex:PX,silent:true,z,data:rows,renderItem:(p,a)=>{
  const c=a.coord([a.value(0),a.value(1)]),s=a.size([a.value(2),a.value(3)]);
  return {type:'ellipse',shape:{cx:c[0],cy:c[1],rx:s[0],ry:s[1]},style:{fill}};}});
const profile=(rows,fill,z)=>({type:'custom',xAxisIndex:PX,yAxisIndex:PX,silent:true,z,data:rows,renderItem:(p,a)=>{
  const t=a.coord([vpStart,a.value(1)]),b=a.coord([a.value(0),a.value(2)]);
  const y0=Math.round(t[1]),y1=Math.round(b[1]);
  return {type:'rect',shape:{x:Math.round(t[0]),y:y0,width:Math.round(b[0]-t[0]),height:y1-y0},style:{fill}};}});
const candles=(rows)=>({type:'custom',xAxisIndex:PX,yAxisIndex:PX,silent:true,z:6,data:rows,renderItem:(p,a)=>{
  const x=a.value(0),o=a.value(1),c=a.value(2),h=a.value(3),l=a.value(4);
  const top=a.coord([x,Math.max(o,c)]),bot=a.coord([x,Math.min(o,c)]),hi=a.coord([x,h]),lo=a.coord([x,l]);
  const up=c>=o, w=11;
  return {type:'group',children:[
    {type:'line',shape:{x1:top[0],y1:hi[1],x2:top[0],y2:lo[1]},style:{stroke:'#0f3540',lineWidth:3}},
    {type:'rect',shape:{x:top[0]-w/2,y:top[1],width:w,height:Math.max(2,bot[1]-top[1])},
     style:{fill:up?'rgba(255,255,255,0.15)':(o-c>=6?'rgba(185,185,185,0.75)':'rgba(255,255,255,0)'),stroke:up?'#2a8ff0':'#ff0000',lineWidth:3.5}}]};}});
const accents=(rows,stroke)=>({type:'custom',xAxisIndex:PX,yAxisIndex:PX,silent:true,z:6,data:rows,renderItem:(p,a)=>{
  const s=a.coord([a.value(0),a.value(1)]),e=a.coord([a.value(0),a.value(2)]);
  return {type:'line',shape:{x1:s[0],y1:s[1],x2:s[0],y2:e[1]},style:{stroke,lineWidth:5}};}});
const tag=(ax,value,text,fill,color)=>({type:'custom',xAxisIndex:ax,yAxisIndex:ax,silent:true,z:30,clip:false,data:[[3448,value]],renderItem:(p,a)=>{
  const c=a.coord([a.value(0),a.value(1)]),h=14;
  return {type:'group',children:[
    {type:'polygon',shape:{points:[[c[0]-5,c[1]],[c[0]+3,c[1]-h],[c[0]+84,c[1]-h],[c[0]+84,c[1]+h],[c[0]+3,c[1]+h]]},style:{fill,stroke:'#555',lineWidth:1}},
    {type:'text',style:{x:c[0]+44,y:c[1],text,fill:color,font:'18px '+FONT,textAlign:'center',textVerticalAlign:'middle'}}]};}});
const bars=(rows,base,k,width)=>({type:'bar',xAxisIndex:OSC,yAxisIndex:OSC,barWidth:width,barGap:'-100%',silent:true,z:3,
  data:rows.map(r=>({value:[base+r[0]*k,r[1]],itemStyle:{color:barColors[r[2]]}}))});
const signalSegs={blue:[],red:[],yellow:[]};
[[signalA,0,0.765],[signalB,1200,0.765],[signalC,2400,0.722]].forEach(([rows,base,k])=>{
  const pts=rowsAt(rows,base,k);
  for(let i=0;i+1<pts.length;i++){
    const a=pts[i],b=pts[i+1],rise=b[1]>a[1],next=pts[i+2],turn=next&&((next[1]>b[1])!==rise);
    const f=turn?0.72:1,mid=[a[0]+(b[0]-a[0])*f,a[1]+(b[1]-a[1])*f];
    (rise?signalSegs.blue:signalSegs.red).push([a[0],a[1],mid[0],mid[1]]);
    if(turn)signalSegs.yellow.push([mid[0],mid[1],b[0],b[1]]);
  }});
const swingUp=[],swingDown=[];
for(let i=0;i+1<swingLine.length;i++){const a=swingLine[i],b=swingLine[i+1];(b[1]>=a[1]?swingUp:swingDown).push([a[0],a[1],b[0],b[1]]);}
const vpDark=vpValueArea.map((e,i)=>[e,vpValueBase+i+1,vpValueBase+i]);
const vpLight=[...vpLower.map((e,i)=>[e,vpValueBase-i,vpValueBase-i-1]),...vpUpper.map((e,i)=>[e,vpUpperBase+i+1,vpUpperBase+i])];
const fibRows=fibLevels.map(f=>[fibSpan[0],fibSpan[1],f[0]]);
const labelOf={};xTickPos.forEach((x,i)=>labelOf[x]=xTickLabels[i]);

const series=[
  level(oscGrid.map(v=>[0,3448,v]),'#e6e6e6',2,null,1,OSC),
  vline([83,...xTickPos],'#ececec',1,1,OSC,-101.7,92.37),
  bars(histA,0,0.765,10),bars(histB,1200,0.765,10),bars(histC,2400,0.722,8),
  level([[0,3448,0]],'#ffa500',3,null,4,OSC),
  seg(signalSegs.blue,'#2f8fdc',4,null,5,OSC),seg(signalSegs.red,'#e23c3c',4,null,5,OSC),seg(signalSegs.yellow,'#ffff00',4,null,5,OSC),
  level([[0,3448,oscLevelCyan]],'#00ffff',4,null,6,OSC),
  vline(sessionLines,'#6a6ad0',1,7,OSC,-101.7,92.37),
  tag(OSC,oscTagBlue,'-0.452','#2a86d0','#fff'),tag(OSC,oscTagRed,'-34.58','#8b0000','#fff'),

  band(sessionBands,'#f3dcf0',1),band(rightPanel,'#e6eefa',1),
  profile(vpDark,'rgba(65,115,230,0.65)',2),profile(vpLight,'rgba(65,115,230,0.32)',2),
  level(vpPOC,'#daa520',7,null,3),
  channelFill(downChannel,'rgba(205,130,90,0.08)',3),channelFill(upChannel,'rgba(205,130,90,0.08)',3),
  level(paleLevels,'#f4c4b0',2,null,4),level(topLevels,'#7c9a8c',2,null,4),
  level(blackLevels,'#111',2,null,4),level(steelLevels,'#4682b4',2,null,4),level(crimsonLevels,'#dc143c',2,null,4),level(tealLevels,'#2a9d8f',2,null,4),
  level(orangeDotted,'#ff8c00',4,[4,4],4),level(blueDotted,'#8aa8f0',1,[2,2],4),level(grayDotted,'#777',1,[2,2],4),level(orMid,'#87e6fa',2,null,4),
  vline(orangeLines,'#f09020',2,4,PX,yBot,yTop),vline(sessionLines,'#6a6ad0',1,4,PX,yBot,yTop),
  seg(downChannel,'#a83232',2,null,5),seg(upChannel,'#a83232',2,null,5),seg(pinkChannel,'#d6359a',2,null,5),
  seg(downMid,'#2222ee',2,[2,2],5),seg(upMid,'#2222ee',2,[2,2],5),
  seg(redTrend,'#ee1111',1.5,null,5),seg(violetTrend,'#c98bf0',1.5,null,5),
  level(fibRows,'#d2691e',2,null,5),
  {type:'custom',xAxisIndex:PX,yAxisIndex:PX,silent:true,z:5,data:[[fibSpan[0],fibLevels[0][0]]],renderItem:(p,a)=>{
    const t=a.coord([fibSpan[0],fibLevels[0][0]]),b=a.coord([fibSpan[1],fibLevels[1][0]]);
    return {type:'rect',shape:{x:t[0],y:t[1],width:b[0]-t[0],height:b[1]-t[1]},style:{fill:'rgba(130,125,150,0.65)'}};}},
  texts(fibLevels.map(f=>[fibSpan[0],f[0]+1.3,f[1]]),'#d2691e','20px '+FONT,11,'left'),
  candles(candlesMay19),candles(candlesMay20),candles(candlesMay21),candles(candlesMay22),candles(candlesMay23),
  accents(accentLime,'#00e000'),accents(accentAmber,'#f5a800'),
  bubbles(tealBubbles,'rgba(10,128,120,0.5)',7),bubbles(redBubbles,'rgba(220,20,60,0.5)',7),
  {type:'line',xAxisIndex:PX,yAxisIndex:PX,silent:true,z:8,showSymbol:false,data:slowMA,lineStyle:{color:'#00eeee',width:3,type:[7,5]}},
  {type:'scatter',xAxisIndex:PX,yAxisIndex:PX,silent:true,z:8,symbol:'triangle',symbolRotate:180,symbolSize:[26,24],data:downMarks,itemStyle:{color:'#e8957a'}},
  {type:'scatter',xAxisIndex:PX,yAxisIndex:PX,silent:true,z:8,symbol:'triangle',symbolSize:[26,24],data:upMarks,itemStyle:{color:'#b4dfd9'}},
  {type:'line',xAxisIndex:PX,yAxisIndex:PX,silent:true,z:9,showSymbol:false,data:swingLine,lineStyle:{color:'#000',width:11,join:'miter'}},
  seg(swingUp,'#1cb4ec',7,[13,7],10),seg(swingDown,'#e8957a',7,[13,7],10),
  level(tinyMarks,'#0000ff',3,null,10),level(tinyRed,'#ff0000',3,null,10),
  texts(swingHighLow,'#e9a088','23px '+FONT,11),texts(swingHL,'#d2691e','23px '+FONT,11),texts(swingLH,'#aedbe6','23px '+FONT,11),texts(swingDT,'#ffd21f','23px '+FONT,11),texts(swingAB,'#e84040','21px '+FONT,11),
  ...levelNames.map(l=>texts([[3330,l[0],l[1]]],l[2],'bold 20px '+SERIF,12,'left')),
  ...smallPrices.map(l=>texts([[3377,l[0]+1.2,l[1]]],l[2],'12px '+FONT,12)),
  texts([[3330,5782,'R-Op']],'#ff9d2e','21px '+FONT,12,'left'),
  texts(counterLabel,'#222','20px '+FONT,12,'left'),
  tag(PX,lastPrice,'5814.75','#000','#fff'),tag(PX,fastPrice,'5809.88','#e8957a','#111')
];
const axisFont={fontFamily:'Open Sans',fontSize:18,color:'#111'};
const option={animation:false,backgroundColor:'#fffcfa',
  grid:[{left:0,top:0,width:3448,height:458,containLabel:false},{left:0,top:459,width:3448,height:1534,containLabel:false}],
  xAxis:[
    {type:'value',gridIndex:0,min:0,max:3448,position:'bottom',axisLine:{onZero:false,lineStyle:{color:'#555',width:2}},axisTick:{show:false},axisLabel:{show:false},splitLine:{show:false}},
    {type:'value',gridIndex:1,min:0,max:3448,position:'bottom',axisLine:{onZero:false,lineStyle:{color:'#999',width:3}},
     axisTick:{length:6,customValues:[83,...xTickPos],lineStyle:{color:'#555'}},
     axisLabel:{...axisFont,margin:14,customValues:xTickPos,formatter:v=>labelOf[v]||'',hideOverlap:false},splitLine:{show:false}}],
  yAxis:[
    {type:'value',gridIndex:0,position:'right',min:-101.7,max:92.37,axisLine:{show:true,onZero:false,lineStyle:{color:'#333'}},
     axisTick:{show:true,length:5,customValues:[...oscTicks,-100],lineStyle:{color:'#555'}},axisLabel:{...axisFont,margin:4,customValues:oscTicks,formatter:v=>String(v)},splitLine:{show:false}},
    {type:'value',gridIndex:1,position:'right',min:yBot,max:yTop,axisLine:{show:true,onZero:false,lineStyle:{color:'#333'}},
     axisTick:{show:true,length:5,customValues:priceTicks,lineStyle:{color:'#555'}},axisLabel:{...axisFont,margin:4,customValues:priceTicks,formatter:v=>v.toFixed(2)},splitLine:{show:false}}],
  series,
  graphic:[
    {type:'text',z:50,left:5,top:470,style:{text:'ES 06-25 (15000 Tick)',font:'18px '+FONT,fill:'#333'}},
    {type:'text',z:50,left:8,top:478,style:{text:'GMT +8, 7 Days June 2025 Expire Primary   - E-mini S&P 500 Futures - 15000 Tick',font:'bold 29.4px '+SERIF,fill:'#111'}},
    {type:'text',z:50,right:92,top:469,style:{text:'Fast (Secondary) Bars - 5000 Tick',font:'bold 29.4px '+SERIF,fill:'#111',textAlign:'right'}},
    {type:'text',z:50,left:5,top:1962,style:{text:'\u00a9 2025 NinjaTrader, LLC',font:'18px '+FONT,fill:'#222'}},
    {type:'text',z:50,left:6,top:2034,style:{text:'ES 06-25 5000 Tick',font:'9px '+FONT,fill:'#222'}},
    {type:'text',z:50,left:195,top:1909,style:{text:'\u03a3: 6312K / 237.00',font:'11px '+FONT,fill:'#2a7d2a'}},
    {type:'text',z:50,left:3259,top:1958,style:{text:'ticks: 9061    ATR: 43',font:'18px '+FONT,fill:'#222'}},
    {type:'text',z:50,right:2,top:2029,style:{text:'NINJATRADER',font:'bold 19px '+FONT,fill:'#e8402a'}}
  ]};
const chart=echarts.init(document.getElementById('c'),null,{renderer:'canvas'});
chart.setOption(option);
</script></body></html>
